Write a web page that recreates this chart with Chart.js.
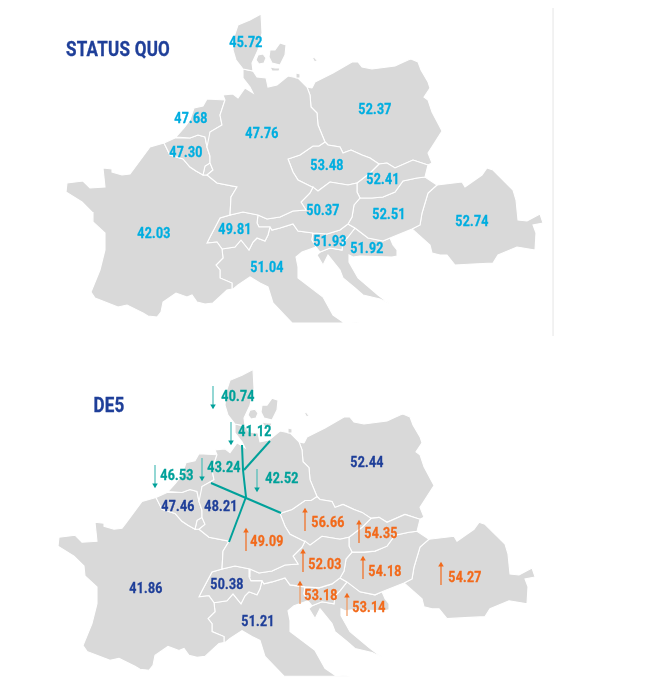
<!DOCTYPE html>
<html>
<head>
<meta charset="utf-8">
<title>Status quo and DE5</title>
<style>
  html, body { margin: 0; padding: 0; background: #fff; }
  canvas { display: block; }
</style>
<script src="https://cdn.jsdelivr.net/npm/chart.js@4"></script>
</head>
<body>
<canvas id="myChart" width="666" height="684"></canvas>
<script>
// map outlines, in the units of the x/y scales
var denmark = [[261,14],[250,20],[238,25],[234,37],[233,50],[236,60],[243,69],[253,71],[252,63],[258,50],[262,33]];
var funen = [[258,55],[263,54],[266,58],[264,63],[259,64],[256,60]];
var zealand = [[270,50],[275,50],[280,43],[286,45],[285,55],[280,65],[272,63],[269,57]];
var lolland = [[270,67],[275,68],[280,68],[279,71],[272,71]];
var bornholm = [[312,57],[315,58],[318,62],[314,61]];
var germany = [[243,69],[253,71],[257,77],[266,78],[268,87],[277,85],[288,76],[298,78],[307,87],[310,95],[311,107],[317,113],[318,125],[325,142],[319,146],[313,146],[300,155],[288,159],[293,172],[298,180],[312,187],[313,187],[310,193],[301,202],[306,210],[293,211],[280,217],[267,219],[258,215],[243,212],[230,215],[231,197],[237,187],[217,183],[207,175],[213,170],[210,163],[210,156],[207,147],[210,132],[222,125],[220,115],[225,100],[223,95],[233,94],[238,98],[245,88],[253,93],[250,87],[243,78]];
var rugen = [[296,73],[300,74],[300,78],[296,78]];
var netherlands = [[225,100],[207,99],[203,106],[194,108],[190,120],[184,128],[176,137],[190,138],[198,135],[205,137],[207,147],[210,156],[210,132],[222,125],[220,115]];
var belgium = [[164,143],[175,138],[190,138],[198,135],[205,137],[207,147],[210,156],[210,163],[205,166],[203,175],[196,171],[190,167],[183,159],[170,155]];
var luxembourg = [[205,166],[210,163],[213,170],[207,175],[203,175]];
var france = [[164,143],[150,147],[133,170],[130,174],[122,175],[112,172],[112,169],[103,168],[105,187],[90,188],[83,181],[67,183],[66,192],[82,202],[92,212],[93,222],[105,233],[105,250],[100,270],[91,292],[95,298],[118,307],[127,305],[143,313],[148,316],[157,317],[161,312],[163,302],[176,293],[187,297],[192,295],[197,302],[205,304],[213,303],[227,290],[232,289],[232,283],[220,278],[220,270],[216,265],[223,258],[222,249],[217,242],[207,243],[210,237],[220,218],[230,215],[231,197],[237,187],[217,183],[207,175],[203,175],[196,171],[190,167],[183,159],[170,155]];
var switzerland = [[230,215],[243,212],[258,215],[257,223],[259,227],[270,227],[268,235],[265,241],[257,238],[253,242],[249,250],[241,240],[235,247],[222,249],[217,242],[207,243],[210,237],[220,218]];
var austria = [[258,215],[267,219],[280,217],[293,211],[306,210],[301,202],[310,193],[313,187],[318,191],[330,182],[348,185],[357,183],[357,192],[360,198],[354,205],[352,217],[348,224],[340,230],[327,234],[313,233],[298,231],[293,224],[280,228],[272,230],[270,227],[259,227],[257,223]];
var czechia = [[325,142],[328,145],[340,147],[343,153],[351,150],[362,155],[370,158],[379,164],[370,173],[357,183],[348,185],[330,182],[318,191],[312,187],[298,180],[293,172],[288,159],[300,155],[313,146],[319,146]];
var slovakia = [[379,164],[387,163],[395,168],[413,160],[428,165],[425,177],[417,178],[403,181],[395,192],[383,197],[372,198],[360,198],[357,192],[357,183],[370,173]];
var poland = [[312,88],[315,82],[333,73],[352,62],[358,62],[362,67],[372,69],[395,66],[408,60],[411,59],[418,62],[421,70],[428,82],[430,88],[424,97],[428,100],[432,112],[442,131],[428,153],[432,163],[428,165],[413,160],[395,168],[387,163],[379,164],[370,158],[362,155],[351,150],[343,153],[340,147],[328,145],[325,142],[318,125],[317,113],[311,107],[310,95],[307,87]];
var hungary = [[360,198],[372,198],[383,197],[395,192],[403,181],[417,178],[425,177],[437,185],[428,193],[422,213],[420,225],[412,229],[390,238],[383,241],[368,238],[355,228],[348,224],[352,217],[354,205]];
var romania = [[437,185],[462,182],[465,187],[482,175],[487,168],[493,170],[513,190],[516,200],[518,220],[527,221],[540,214],[543,223],[533,225],[536,233],[535,250],[517,247],[498,255],[493,263],[473,264],[455,265],[447,255],[440,255],[432,253],[430,245],[412,229],[420,225],[422,213],[428,193]];
var slovenia = [[313,233],[327,234],[340,230],[348,224],[355,228],[348,237],[343,242],[342,250],[330,248],[320,252],[316,247],[312,240]];
var croatia = [[348,237],[355,228],[368,238],[383,241],[390,238],[393,245],[397,250],[397,256],[392,257],[360,256],[353,257],[349,255],[349,262],[358,278],[378,295],[390,304],[380,299],[363,295],[355,288],[343,278],[340,270],[328,255],[323,265],[317,255],[320,252],[330,248],[342,250],[343,242]];
var italy = [[222,249],[235,247],[241,240],[249,250],[253,242],[257,238],[265,241],[268,235],[270,227],[272,230],[280,228],[293,224],[298,231],[313,233],[312,240],[316,247],[302,252],[296,257],[298,267],[298,278],[323,297],[333,315],[343,322],[360,323],[292,323],[273,303],[268,287],[260,283],[250,277],[238,285],[232,290],[232,283],[220,278],[220,270],[216,265],[223,258]];

var shapes = [denmark, funen, zealand, lolland, bornholm, rugen, germany, netherlands, belgium, luxembourg, france, switzerland, austria, czechia, slovakia, poland, hungary, romania, slovenia, croatia, italy];

// status quo prices
var statusNames = ["DK", "NL", "BE", "DE", "PL", "CZ", "SK", "AT", "HU", "RO", "FR", "CH", "SI", "HR", "IT"];
var statusValues = [45.72, 47.68, 47.30, 47.76, 52.37, 53.48, 52.41, 50.37, 52.51, 52.74, 42.03, 49.81, 51.93, 51.92, 51.04];
var statusX = [246, 191, 186, 262, 375, 327, 383, 323, 389, 472, 154, 235, 330, 367, 267];
var statusY = [42, 118, 152, 133, 109, 165, 179, 210, 214, 221, 233, 229, 241, 248, 267];

// DE5 prices, change: -1 falls, 0 no arrow, 1 rises
var de5Names = ["DK", "DE1", "DE2", "NL", "DE3", "BE", "DE4", "PL", "CZ", "SK", "DE5", "AT", "HU", "RO", "SI", "HR", "CH", "FR", "IT"];
var de5Values = [40.74, 41.12, 43.24, 46.53, 42.52, 47.46, 48.21, 52.44, 56.66, 54.35, 49.09, 52.03, 54.18, 54.27, 53.18, 53.14, 50.38, 41.86, 51.21];
var de5Change = [-1, -1, -1, -1, -1, 0, 0, 0, 1, 1, 1, 1, 1, 1, 1, 1, 0, 0, 0];
var de5X = [238, 255, 224, 177, 282, 178, 221, 367, 328, 381, 267, 325, 385, 465, 321, 369, 227, 146, 258];
var de5Y = [396, 431, 467, 475, 478, 506, 506, 462, 522, 533, 541, 564, 571, 577, 595, 607, 584, 588, 621];
var arrowX = [213, 231, 202, 155, 257, null, null, null, 305, 359, 246, 303, 363, 441, 300, 347, null, null, null];
var arrowTail = [386, 422, 458, 465, 469, null, null, null, 531, 543, 551, 572, 579, 585, 604, 616, null, null, null];

// zone borders in the DE5 map
var zoneLines = [
  [[242, 445], [243, 470], [246, 497]],
  [[270, 441], [244, 470]],
  [[211, 483], [281, 513]],
  [[246, 497], [229, 542]]
];
var panelDivider = [[553, 8], [553, 336]];

var GREY = "#d9d9d9";
var CYAN = "#00aee0";
var NAVY = "#1f3f99";
var TEAL = "#00a19a";
var TEAL_SHAFT = "#4dbdb8";
var ORANGE = "#f26a1b";
var ORANGE_SHAFT = "#f0995f";
var fadedArrows = ["SI", "HR"];
var de5OffsetX = -8;
var de5OffsetY = 355.5;
var de5ScaleY = 0.993;
var arrowLength = 20;

function toPoints(list, dx, dy, sy) {
  return list.map(function (p) {
    return { x: p[0] + dx, y: p[1] * sy + dy };
  });
}

var datasets = [];

function addMap(dx, dy, sy) {
  shapes.forEach(function (shape) {
    var pts = toPoints(shape, dx, dy, sy);
    pts.push(pts[0]);
    datasets.push({
      data: pts,
      showLine: true,
      fill: "shape",
      backgroundColor: GREY,
      borderColor: "#fff",
      borderWidth: 1.1,
      pointRadius: 0,
      tension: 0,
      order: 5,
    });
  });
}
addMap(0, 0, 1);
addMap(de5OffsetX, de5OffsetY, de5ScaleY);

datasets.push({
  data: toPoints(panelDivider, 0, 0, 1),
  showLine: true,
  borderColor: "#f0f0f0",
  borderWidth: 1,
  pointRadius: 0,
  order: 4,
});

zoneLines.forEach(function (line) {
  datasets.push({
    data: toPoints(line, 0, 0, 1),
    showLine: true,
    borderColor: TEAL,
    borderWidth: 2,
    pointRadius: 0,
    order: 3,
  });
});

de5Change.forEach(function (change, i) {
  if (!change) return;
  var colour = change > 0 ? ORANGE : TEAL;
  var shaft = change < 0 ? TEAL_SHAFT : fadedArrows.indexOf(de5Names[i]) >= 0 ? ORANGE_SHAFT : ORANGE;
  var tip = change > 0 ? arrowTail[i] - arrowLength : arrowTail[i] + arrowLength;
  datasets.push({
    data: [{ x: arrowX[i], y: arrowTail[i] }, { x: arrowX[i], y: tip }],
    showLine: true,
    borderColor: shaft,
    borderWidth: 1.2,
    pointStyle: "triangle",
    pointRadius: [0, 3.2],
    pointRotation: change > 0 ? 0 : 180,
    pointBackgroundColor: colour,
    pointBorderColor: colour,
    pointBorderWidth: 0,
    order: 2,
  });
});

function drawLabel(ctx, text, x, y, colour, size, squeeze) {
  ctx.save();
  ctx.translate(x, y);
  ctx.scale(squeeze, 1);
  ctx.font = "bold " + size + "px Roboto";
  ctx.letterSpacing = "0.3px";
  ctx.textAlign = "center";
  ctx.textBaseline = "middle";
  ctx.fillStyle = colour;
  ctx.strokeStyle = colour;
  ctx.lineWidth = 0.35;
  ctx.fillText(text, 0, 0);
  ctx.strokeText(text, 0, 0);
  ctx.restore();
}

var mapLabels = {
  id: "mapLabels",
  afterDatasetsDraw: function (chart) {
    var ctx = chart.ctx;
    var sx = chart.scales.x;
    var sy = chart.scales.y;
    statusValues.forEach(function (v, i) {
      drawLabel(ctx, v.toFixed(2), sx.getPixelForValue(statusX[i]), sy.getPixelForValue(statusY[i] + 1), CYAN, 15.5, 0.8);
    });
    de5Values.forEach(function (v, i) {
      var c = de5Change[i];
      var colour = c > 0 ? ORANGE : c < 0 ? TEAL : NAVY;
      drawLabel(ctx, v.toFixed(2), sx.getPixelForValue(de5X[i]), sy.getPixelForValue(de5Y[i] + 1), colour, 15.5, 0.8);
    });
    drawLabel(ctx, "STATUS QUO", sx.getPixelForValue(118), sy.getPixelForValue(51), NAVY, 20, 0.85);
    drawLabel(ctx, "DE5", sx.getPixelForValue(109), sy.getPixelForValue(407), NAVY, 20, 0.85);
  },
};

var ctx = document.getElementById("myChart").getContext("2d");
var myChart = new Chart(ctx, {
  type: "scatter",
  data: { datasets: datasets },
  options: {
    responsive: false,
    animation: false,
    layout: { padding: 0, autoPadding: false },
    plugins: { legend: { display: false }, tooltip: { enabled: false } },
    scales: {
      x: { type: "linear", min: 0, max: 666, display: false },
      y: { type: "linear", min: 0, max: 684, reverse: true, display: false },
    },
  },
  plugins: [mapLabels],
});
</script>
</body>
</html>
